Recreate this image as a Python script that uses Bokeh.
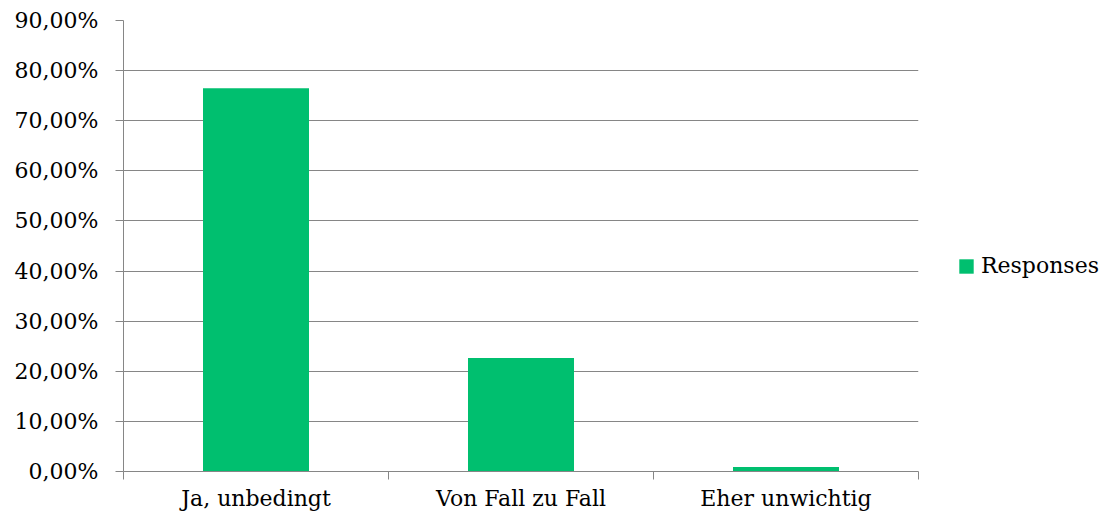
from bokeh.plotting import figure
from bokeh.models import Range1d, FixedTicker, Legend, LegendItem, ColumnDataSource
from bokeh.embed import file_html
from bokeh.resources import INLINE

categories = ["Ja, unbedingt", "Von Fall zu Fall", "Eher unwichtig"]
responses = [0.7647, 0.2265, 0.0088]
y_ticks = [0.0, 0.1, 0.2, 0.3, 0.4, 0.5, 0.6, 0.7, 0.8, 0.9]
y_tick_labels = ["0,00%", "10,00%", "20,00%", "30,00%", "40,00%", "50,00%",
                 "60,00%", "70,00%", "80,00%", "90,00%"]
series_name = "Responses"

FONT = "DejaVu Serif"
GREEN = "#00BF6F"
GRAY = "#868686"

centers = [i + 0.5 for i in range(len(categories))]
bounds = list(range(len(categories) + 1))
src = ColumnDataSource(data=dict(x=centers, top=responses, cat=categories))

p = figure(frame_width=795, frame_height=451, output_backend="svg",
           toolbar_location=None, x_range=Range1d(0, len(categories)),
           y_range=Range1d(0, 0.9),
           min_border_left=123, min_border_right=182,
           min_border_top=20, min_border_bottom=41)
p.outline_line_color = None
p.background_fill_color = "white"
p.border_fill_color = "white"

r = p.vbar(x="x", top="top", width=0.4, bottom=0, source=src,
           fill_color=GREEN, line_color=None)

# x axis
xa = p.xaxis[0]
xa.ticker = FixedTicker(ticks=centers, minor_ticks=bounds)
xa.major_label_overrides = {c: lab for c, lab in zip(centers, categories)}
xa.major_tick_out = 0
xa.major_tick_in = 0
xa.minor_tick_out = 8
xa.minor_tick_in = 0
xa.minor_tick_line_color = GRAY
xa.axis_line_color = GRAY
xa.major_label_text_font = FONT
xa.major_label_text_font_size = "22px"
xa.major_label_text_color = "#000000"
xa.major_label_standoff = 6

# y axis
ya = p.yaxis[0]
ya.ticker = FixedTicker(ticks=y_ticks)
ya.major_label_overrides = {t: lab for t, lab in zip(y_ticks, y_tick_labels)}
ya.major_tick_out = 8
ya.major_tick_in = 0
ya.minor_tick_out = 0
ya.minor_tick_in = 0
ya.major_tick_line_color = GRAY
ya.axis_line_color = GRAY
ya.major_label_text_font = FONT
ya.major_label_text_font_size = "22px"
ya.major_label_text_color = "#000000"
ya.major_label_standoff = 17

p.xgrid.grid_line_color = None
p.ygrid.grid_line_color = GRAY
p.ygrid.grid_line_width = 1
p.ygrid.ticker = FixedTicker(ticks=y_ticks)

legend = Legend(items=[LegendItem(label=series_name, renderers=[r])],
                location=(39, 193), padding=0, margin=0,
                glyph_width=18, glyph_height=18, label_standoff=6,
                border_line_color=None, background_fill_alpha=0,
                label_text_font=FONT, label_text_font_size="22px",
                label_text_color="#000000")
p.add_layout(legend, "right")

open("out.html", "w").write(file_html(p, INLINE))
